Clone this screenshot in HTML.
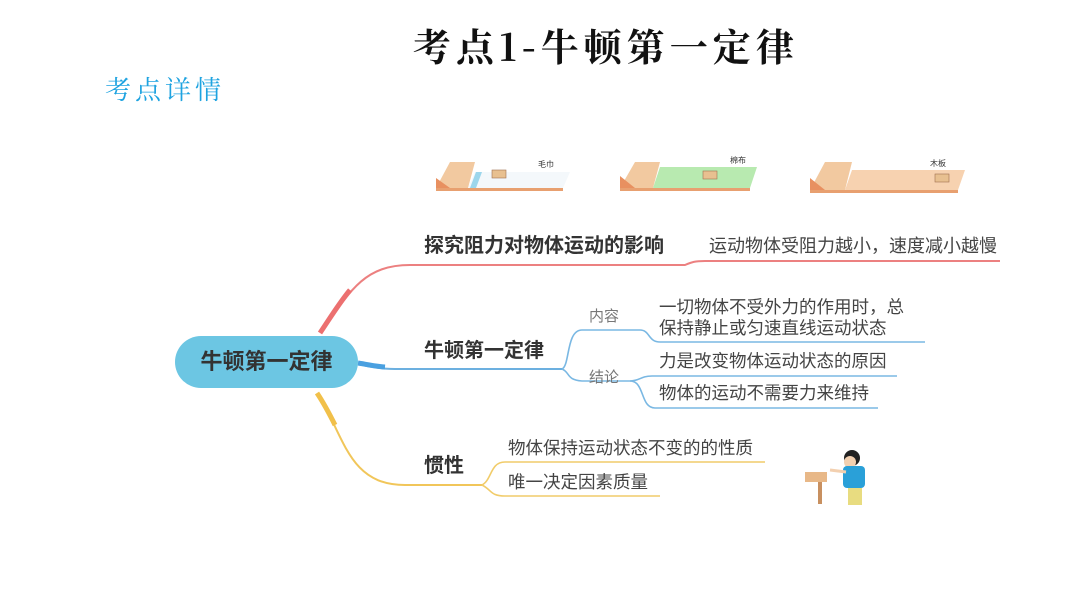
<!DOCTYPE html>
<html><head><meta charset="utf-8"><style>
html,body{margin:0;padding:0;background:#fff;}
body{width:1066px;height:600px;position:relative;overflow:hidden;font-family:"Liberation Sans","Noto Sans CJK SC",sans-serif;}
.t{position:absolute;white-space:nowrap;line-height:1;}
</style></head><body>
<svg width="1066" height="600" style="position:absolute;left:0;top:0">
<path d="M322,332 C350,290 365,265 410,265 L685,265 C692,262 695,261 705,261 L1000,261" fill="none" stroke="#ec8080" stroke-width="2"/>
<path d="M320,333 C332,315 340,302 350,290" fill="none" stroke="#ec7070" stroke-width="5"/>
<path d="M358,364 C370,367 380,369 400,369 L562,369" fill="none" stroke="#6cb0e0" stroke-width="2"/>
<path d="M358,363 C365,364 372,366 385,367" fill="none" stroke="#4aa0e0" stroke-width="5"/>
<path d="M562,369 C570,366 566,330 582,330 L640,330 C650,330 648,342 660,342 L925,342" fill="none" stroke="#7ab8e3" stroke-width="1.6"/>
<path d="M562,369 C570,372 566,380 582,381 L630,381 C640,381 640,376 652,376 L897,376" fill="none" stroke="#7ab8e3" stroke-width="1.6"/>
<path d="M630,381 C645,381 640,408 655,408 L878,408" fill="none" stroke="#7ab8e3" stroke-width="1.6"/>
<path d="M318,393 C345,440 350,485 405,485 L482,485" fill="none" stroke="#f1c65a" stroke-width="2"/>
<path d="M317,393 C325,405 330,415 335,425" fill="none" stroke="#f1c04a" stroke-width="5"/>
<path d="M482,485 C492,480 490,462 505,462 L765,462" fill="none" stroke="#f1cc6a" stroke-width="1.6"/>
<path d="M482,485 C492,490 490,496 505,496 L660,496" fill="none" stroke="#f1cc6a" stroke-width="1.6"/>
<g>
<polygon points="436,188 450,162 475,162 468,188" fill="#f2c9a0"/>
<polygon points="436,178 436,188 450,188" fill="#e89060"/>
<polygon points="468,188 475,172 570,172 563,188" fill="#f4f8fb"/>
<polygon points="470,188 476,172 482,172 476,188" fill="#9cd6ec"/>
<rect x="436" y="188" width="127" height="3" fill="#e8a070"/>
<rect x="492" y="170" width="14" height="8" fill="#e8c090" stroke="#a07050" stroke-width="0.6"/>
<text x="538" y="167" font-size="8" fill="#333" font-family="Noto Sans CJK SC">毛巾</text>
</g>
<g>
<polygon points="620,188 635,162 660,162 653,188" fill="#f2c9a0"/>
<polygon points="620,176 620,188 635,188" fill="#e89060"/>
<polygon points="653,188 660,167 757,167 750,188" fill="#b8eab0"/>
<rect x="620" y="188" width="130" height="3" fill="#e8a070"/>
<rect x="703" y="171" width="14" height="8" fill="#e8c090" stroke="#a07050" stroke-width="0.6"/>
<text x="730" y="163" font-size="8" fill="#333" font-family="Noto Sans CJK SC">棉布</text>
</g>
<g>
<polygon points="810,190 825,162 852,162 845,190" fill="#f2c9a0"/>
<polygon points="810,178 810,190 825,190" fill="#e89060"/>
<polygon points="845,190 852,170 965,170 958,190" fill="#f7d2b0"/>
<rect x="810" y="190" width="148" height="3" fill="#e8a070"/>
<rect x="935" y="174" width="14" height="8" fill="#e8c090" stroke="#a07050" stroke-width="0.6"/>
<text x="930" y="166" font-size="8" fill="#333" font-family="Noto Sans CJK SC">木板</text>
</g>
<rect x="805" y="472" width="22" height="10" fill="#e8b888"/>
<rect x="818" y="482" width="4" height="22" fill="#c89060"/>
<circle cx="852" cy="458" r="8" fill="#222"/>
<circle cx="850" cy="462" r="6" fill="#f3d0b0"/>
<rect x="843" y="466" width="22" height="22" rx="4" fill="#2aa0d8"/>
<path d="M830,470 L846,472" stroke="#f3d0b0" stroke-width="3"/>
<rect x="848" y="488" width="14" height="17" fill="#e8dc80"/>
</svg>
<div class="t" style="left:413px;top:26px;font-size:38px;font-weight:bold;color:#111;font-family:'Noto Serif CJK SC',serif;letter-spacing:5px">考点1-牛顿第一定律</div>
<div class="t" style="left:105px;top:76px;font-size:26px;color:#1ea3e0;font-family:'Noto Serif CJK SC',serif;letter-spacing:4px">考点详情</div>
<div style="position:absolute;left:175px;top:336px;width:183px;height:52px;border-radius:26px;background:#6cc6e3;"></div>
<div class="t" style="left:175px;top:351px;width:183px;text-align:center;font-size:22px;font-weight:bold;color:#333">牛顿第一定律</div>
<div class="t" style="left:424px;top:236px;font-size:20px;font-weight:bold;color:#333">探究阻力对物体运动的影响</div>
<div class="t" style="left:709px;top:237px;font-size:18px;color:#444">运动物体受阻力越小，速度减小越慢</div>
<div class="t" style="left:424px;top:341px;font-size:20px;font-weight:bold;color:#333">牛顿第一定律</div>
<div class="t" style="left:589px;top:309px;font-size:15px;color:#777">内容</div>
<div class="t" style="left:589px;top:370px;font-size:15px;color:#777">结论</div>
<div class="t" style="left:659px;top:297px;font-size:17.5px;color:#444;line-height:21px">一切物体不受外力的作用时，总<br>保持静止或匀速直线运动状态</div>
<div class="t" style="left:659px;top:353px;font-size:17.5px;color:#444">力是改变物体运动状态的原因</div>
<div class="t" style="left:659px;top:385px;font-size:17.5px;color:#444">物体的运动不需要力来维持</div>
<div class="t" style="left:424px;top:456px;font-size:20px;font-weight:bold;color:#333">惯性</div>
<div class="t" style="left:508px;top:440px;font-size:17.5px;color:#444">物体保持运动状态不变的的性质</div>
<div class="t" style="left:508px;top:474px;font-size:17.5px;color:#444">唯一决定因素质量</div>
</body></html>
